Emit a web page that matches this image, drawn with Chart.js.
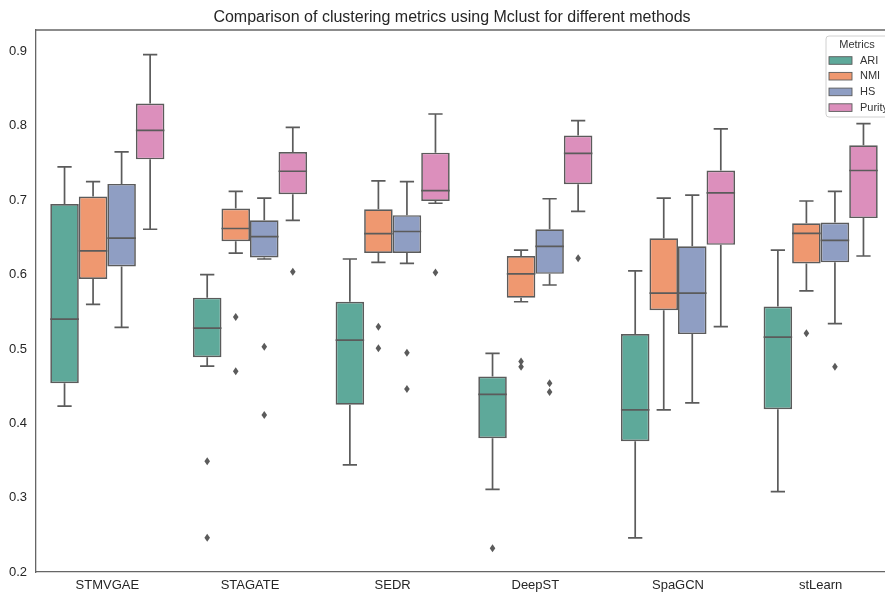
<!DOCTYPE html>
<html><head><meta charset="utf-8">
<script src="https://cdn.jsdelivr.net/npm/chart.js@4"></script>
<style>html,body{margin:0;padding:0;overflow:hidden;background:#fff}#wrap{width:892px;height:592px;position:relative}</style>
</head><body><div id="wrap"><canvas id="c"></canvas></div>
<script>
const methods = ['STMVGAE', 'STAGATE', 'SEDR', 'DeepST', 'SpaGCN', 'stLearn'];
const metrics = ['ARI', 'NMI', 'HS', 'Purity'];
const metricColors = ['#5ea99a', '#ef9870', '#8f9ec3', '#dc8fbc'];
// [low whisker, Q1, median, Q3, high whisker] for each method
const ariStats = [[0.423,0.454,0.540,0.695,0.745],[0.477,0.489,0.528,0.569,0.600],[0.344,0.425,0.512,0.5635,0.621],[0.311,0.380,0.439,0.463,0.494],[0.246,0.376,0.418,0.520,0.605],[0.308,0.419,0.516,0.557,0.633]];
const nmiStats = [[0.560,0.594,0.632,0.705,0.725],[0.629,0.645,0.662,0.689,0.712],[0.6165,0.629,0.655,0.688,0.726],[0.5635,0.569,0.601,0.625,0.633],[0.418,0.552,0.575,0.649,0.703],[0.578,0.615,0.6555,0.669,0.699]];
const hsStats = [[0.529,0.611,0.649,0.722,0.765],[0.621,0.623,0.651,0.673,0.703],[0.615,0.629,0.658,0.680,0.725],[0.586,0.601,0.638,0.661,0.702],[0.4275,0.520,0.575,0.638,0.707],[0.534,0.6165,0.646,0.670,0.712]];
const purityStats = [[0.661,0.755,0.794,0.830,0.896],[0.673,0.708,0.739,0.765,0.798],[0.696,0.699,0.713,0.764,0.816],[0.685,0.7215,0.763,0.787,0.807],[0.530,0.640,0.710,0.740,0.796],[0.625,0.676,0.740,0.774,0.803]];
const ariOutliers = [[],[0.349,0.246],[],[0.232],[],[]];
const nmiOutliers = [[],[0.543,0.470],[0.530,0.501],[0.483,0.476],[],[0.521]];
const hsOutliers = [[],[0.503,0.411],[0.495,0.446],[0.454,0.442],[],[0.476]];
const purityOutliers = [[],[0.604],[0.603],[0.622],[],[]];
const yTicks = [0.2, 0.3, 0.4, 0.5, 0.6, 0.7, 0.8, 0.9];
const chartTitle = 'Comparison of clustering metrics using Mclust for different methods';

const allStats = [ariStats, nmiStats, hsStats, purityStats];
const allOutliers = [ariOutliers, nmiOutliers, hsOutliers, purityOutliers];
const LINE = '#5b5b5b';
const FONT = "'Liberation Sans', Arial, sans-serif";

const datasets = metrics.map((m, k) => ({
  label: m,
  data: allStats[k].map(s => [s[1], s[3]]),
  stats: allStats[k],
  outliers: allOutliers[k],
  backgroundColor: metricColors[k],
  borderColor: LINE,
  borderWidth: 1.7,
  borderSkipped: false,
  categoryPercentage: 0.8,
  barPercentage: 1.0
}));

const boxPlugin = {
  id: 'boxExtras',
  afterDatasetsDraw(chart) {
    const ctx = chart.ctx, y = chart.scales.y;
    ctx.save();
    ctx.strokeStyle = LINE; ctx.fillStyle = LINE; ctx.lineWidth = 1.7;
    chart.data.datasets.forEach((ds, di) => {
      const meta = chart.getDatasetMeta(di);
      meta.data.forEach((bar, i) => {
        const s = ds.stats[i];
        const x = bar.x, w = bar.width;
        const pLo = y.getPixelForValue(s[0]), pQ1 = y.getPixelForValue(s[1]);
        const pMed = y.getPixelForValue(s[2]), pQ3 = y.getPixelForValue(s[3]);
        const pHi = y.getPixelForValue(s[4]);
        const cap = w * 0.25;
        ctx.beginPath();
        ctx.moveTo(x, pQ3); ctx.lineTo(x, pHi);
        ctx.moveTo(x - cap, pHi); ctx.lineTo(x + cap, pHi);
        ctx.moveTo(x, pQ1); ctx.lineTo(x, pLo);
        ctx.moveTo(x - cap, pLo); ctx.lineTo(x + cap, pLo);
        ctx.moveTo(x - w / 2, pMed); ctx.lineTo(x + w / 2, pMed);
        ctx.stroke();
        ds.outliers[i].forEach(v => {
          const py = y.getPixelForValue(v);
          ctx.beginPath();
          ctx.moveTo(x, py - 4); ctx.lineTo(x + 2.8, py); ctx.lineTo(x, py + 4); ctx.lineTo(x - 2.8, py);
          ctx.closePath(); ctx.fill();
        });
      });
    });
    // top spine
    const a = chart.chartArea;
    ctx.strokeStyle = '#666'; ctx.lineWidth = 1.3;
    ctx.beginPath(); ctx.moveTo(a.left, a.top); ctx.lineTo(a.right, a.top); ctx.stroke();
    ctx.restore();
  }
};

const titlePlugin = {
  id: 'plotTitle',
  afterDraw(chart) {
    const ctx = chart.ctx;
    ctx.save();
    ctx.font = '16px ' + FONT; ctx.fillStyle = '#262626';
    ctx.textAlign = 'center'; ctx.textBaseline = 'middle';
    ctx.fillText(chartTitle, 452, 17.5);
    ctx.restore();
  }
};

const legendPlugin = {
  id: 'metricLegend',
  afterDraw(chart) {
    const ctx = chart.ctx;
    ctx.save();
    const L = 826, T = 36, R = 890, B = 117, r = 3;
    ctx.fillStyle = 'rgba(255,255,255,0.85)';
    ctx.strokeStyle = '#d0d0d0'; ctx.lineWidth = 1;
    ctx.beginPath();
    ctx.moveTo(L + r, T); ctx.lineTo(R - r, T); ctx.arcTo(R, T, R, T + r, r);
    ctx.lineTo(R, B - r); ctx.arcTo(R, B, R - r, B, r);
    ctx.lineTo(L + r, B); ctx.arcTo(L, B, L, B - r, r);
    ctx.lineTo(L, T + r); ctx.arcTo(L, T, L + r, T, r);
    ctx.closePath(); ctx.fill(); ctx.stroke();
    ctx.font = '11px ' + FONT; ctx.fillStyle = '#333'; ctx.textBaseline = 'middle';
    ctx.textAlign = 'center';
    ctx.fillText('Metrics', 857, 45);
    ctx.textAlign = 'left';
    metrics.forEach((m, k) => {
      const cy = 60.5 + k * 15.7;
      ctx.fillStyle = metricColors[k];
      ctx.fillRect(829, cy - 3.8, 23, 7.6);
      ctx.strokeStyle = LINE; ctx.lineWidth = 0.9;
      ctx.strokeRect(829, cy - 3.8, 23, 7.6);
      ctx.fillStyle = '#333';
      ctx.fillText(m, 860, cy);
    });
    ctx.restore();
  }
};

new Chart(document.getElementById('c'), {
  type: 'bar',
  data: { labels: methods, datasets },
  options: {
    responsive: true, maintainAspectRatio: false, animation: false,
    layout: { padding: { left: 0, right: 0, top: 30, bottom: 0 } },
    plugins: {
      legend: { display: false },
      tooltip: { enabled: false },
      title: { display: false }
    },
    scales: {
      x: {
        type: 'category',
        grid: { display: false, drawTicks: false },
        border: { display: true, color: '#666', width: 1.3 },
        ticks: { color: '#262626', font: { family: FONT, size: 13 }, padding: 6, maxRotation: 0 },
        afterFit(s) { s.height = 20; }
      },
      y: {
        type: 'linear', min: 0.2, max: 0.929,
        grid: { display: false, drawTicks: false },
        border: { display: true, color: '#666', width: 1.3 },
        afterBuildTicks(s) { s.ticks = yTicks.map(v => ({ value: v })); },
        ticks: { color: '#262626', font: { family: FONT, size: 13 }, padding: 9,
                 callback: v => v.toFixed(1) },
        afterFit(s) { s.width = 36; }
      }
    }
  },
  plugins: [boxPlugin, titlePlugin, legendPlugin]
});
</script></body></html>
